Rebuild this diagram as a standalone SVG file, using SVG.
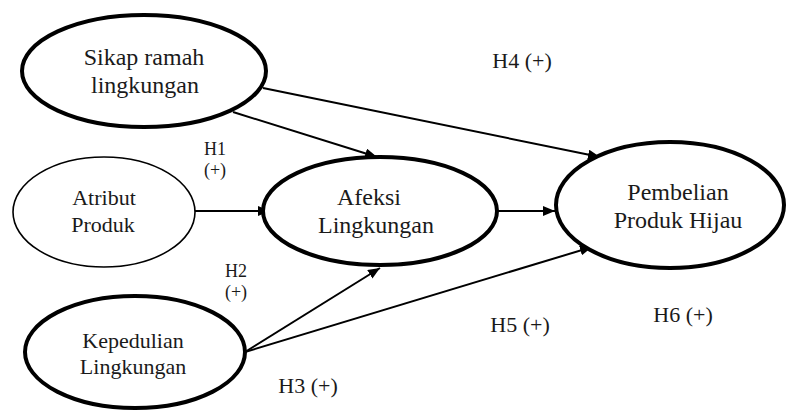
<svg xmlns="http://www.w3.org/2000/svg" width="787" height="412" viewBox="0 0 787 412">
<style>
.n{fill:#fff;stroke:#000;stroke-width:4}
.thin{stroke-width:1.6}
text{font-family:"Liberation Serif","Times New Roman",serif;fill:#1a1a1a;text-anchor:middle}
.t{font-size:24px}
.s{font-size:22px}
.l{font-size:22px}
.m{font-size:18px}
.c{stroke:#000;stroke-width:2;fill:none;marker-end:url(#ah)}
</style>
<defs>
<marker id="ah" viewBox="0 0 12 10" refX="12" refY="5" markerWidth="12" markerHeight="10" markerUnits="userSpaceOnUse" orient="auto">
<path d="M0,0 L12,5 L0,10 z" fill="#000"/>
</marker>
</defs>
<rect width="787" height="412" fill="#fff"/>
<g id="connectors">
<line class="c" x1="233" y1="112" x2="377" y2="157"/>
<line class="c" x1="263" y1="88" x2="600" y2="157"/>
<line class="c" x1="195" y1="211" x2="270" y2="211"/>
<line class="c" x1="497" y1="211" x2="555" y2="211"/>
<line class="c" x1="245" y1="352" x2="380" y2="268"/>
<line class="c" x1="245" y1="352" x2="592" y2="247"/>
</g>
<g id="sikap">
<ellipse class="n" cx="144" cy="71" rx="122" ry="56"/>
<text class="t" x="144" y="65">Sikap ramah</text>
<text class="t" x="145" y="93">lingkungan</text>
</g>
<g id="atribut">
<ellipse class="n thin" cx="104" cy="212" rx="91" ry="55"/>
<text class="s" x="104" y="205">Atribut</text>
<text class="s" x="103" y="232">Produk</text>
</g>
<g id="afeksi">
<ellipse class="n" cx="380" cy="211" rx="117" ry="54"/>
<text class="t" x="369" y="205">Afeksi</text>
<text class="t" x="376" y="233">Lingkungan</text>
</g>
<g id="pembelian">
<ellipse class="n" cx="670" cy="205" rx="114" ry="63"/>
<text class="t" x="678" y="200">Pembelian</text>
<text class="t" x="678" y="228">Produk Hijau</text>
</g>
<g id="kepedulian">
<ellipse class="n" cx="135" cy="352" rx="110" ry="56"/>
<text class="s" x="133" y="348">Kepedulian</text>
<text class="s" x="133" y="374">Lingkungan</text>
</g>
<g id="labels">
<text class="l" x="522" y="68">H4 (+)</text>
<text class="m" x="215" y="155">H1</text>
<text class="m" x="215" y="176">(+)</text>
<text class="m" x="236" y="277">H2</text>
<text class="m" x="236" y="298">(+)</text>
<text class="l" x="308" y="393">H3 (+)</text>
<text class="l" x="520" y="332">H5 (+)</text>
<text class="l" x="683" y="322">H6 (+)</text>
</g>
</svg>
